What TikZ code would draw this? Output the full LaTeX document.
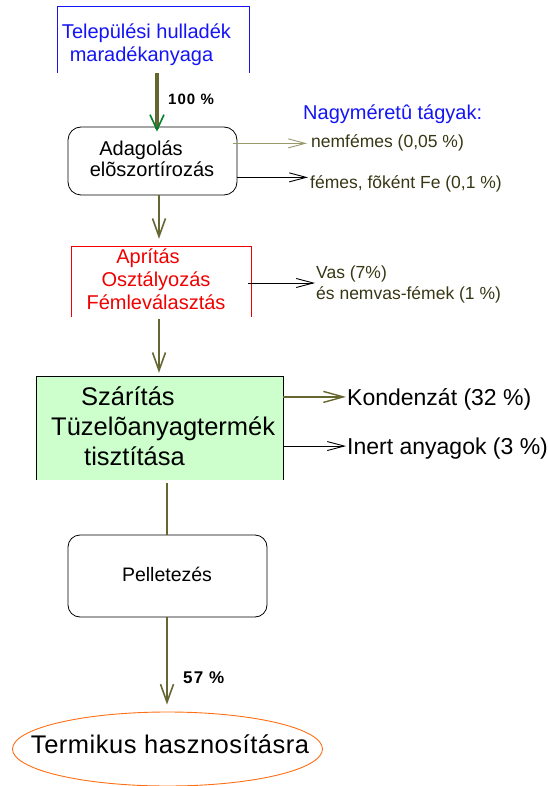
\documentclass[tikz,border=0pt]{standalone}
\usepackage{fontspec}
\setmainfont{Liberation Sans}
\usetikzlibrary{arrows.meta,shapes.geometric,calc}
\definecolor{oliveline}{RGB}{102,102,51}
\definecolor{lightolive}{RGB}{153,153,110}
\definecolor{notetext}{RGB}{55,55,20}
\definecolor{headgreen}{RGB}{0,128,40}
\definecolor{boxgreen}{RGB}{204,255,204}
\definecolor{orng}{RGB}{255,110,20}
\definecolor{titleblue}{RGB}{20,20,245}
\definecolor{boxred}{RGB}{240,0,0}
\begin{document}
\begin{tikzpicture}[x=1pt,y=-1pt,
  fs/.style={font=\fontsize{#1}{#1}\selectfont},
  bfs/.style={font=\fontsize{#1}{#1}\selectfont\bfseries\addfontfeature{LetterSpace=7}},
  txt/.style={inner sep=0pt, anchor=base west},
  ctxt/.style={inner sep=0pt, anchor=base},
  boxnode/.style={inner sep=0pt, rectangle},
  mainline/.style={draw=oliveline, line width=2pt},
  mainarrow/.style={mainline, -{Straight Barb[length=18pt,width=13pt,line width=1.6pt]}},
  sidearrow/.style={line width=0.9pt, -{Straight Barb[length=17pt,width=9pt,line width=0.9pt]}}
]
\useasboundingbox (0,0) rectangle (547,786);

% helper x positions for vertical connectors
\coordinate (c1) at (157,0);
\coordinate (c2) at (159,0);
\coordinate (c3) at (167,0);

% source box
\node[boxnode, minimum width=191pt, minimum height=66pt] (src) at (153.5,40) {};
\draw[titleblue, line width=0.8pt] (src.south west) -- (src.north west) -- (src.north east) -- (src.south east);
\node[ctxt, fs=20, text=titleblue] (src1) at (146.5,39) {Települési hulladék};
\node[ctxt, fs=20, text=titleblue] (src2) at (141.5,62) {maradékanyaga};

% Adagolás box
\node[boxnode, draw, line width=0.8pt, rounded corners=13pt, minimum width=169pt, minimum height=68pt] (adag) at (152.5,161) {};
\node[ctxt, fs=20] (adag1) at (141,156) {Adagolás};
\node[ctxt, fs=20] (adag2) at (152,177) {elõszortírozás};

% arrow 100 %
\draw[draw=oliveline, line width=4.5pt, -{Straight Barb[length=15pt,width=14pt,line width=1.6pt,color=headgreen]}]
  (c1 |- src.south) -- ($(c1 |- adag.north)+(0,5)$);
\node[txt, bfs=15] (p100) at (168,105) {100 \%};

% large parts
\node[txt, fs=20, text=titleblue] (nagy) at (303,120) {Nagyméretû tágyak:};
\node[txt, fs=17.5, text=notetext] (nemf) at (311,148) {nemfémes (0,05 \%)};
\node[txt, fs=17.5, text=notetext] (femes) at (310,189) {fémes, fõként Fe (0,1 \%)};
\draw[sidearrow, lightolive, shorten >=4pt] ([xshift=-4pt]adag.east |- nemf.west) -- (nemf.west);
\draw[sidearrow, black, shorten >=2pt] ([yshift=7pt]adag.east |- femes.west) -- ([yshift=7pt]femes.west);

% Aprítás box
\node[boxnode, minimum width=179pt, minimum height=70pt] (aprit) at (161.5,282) {};
\draw[boxred, line width=0.8pt] (aprit.south west) -- (aprit.north west) -- (aprit.north east) -- (aprit.south east);
\node[ctxt, fs=20, text=boxred] (ap1) at (148,263) {Aprítás};
\node[ctxt, fs=20, text=boxred] (ap2) at (156,286) {Osztályozás};
\node[ctxt, fs=20, text=boxred] (ap3) at (156,309) {Fémleválasztás};

\draw[mainarrow] (c2 |- adag.south) -- ($(c2 |- aprit.north)+(0,-8)$);

% Vas
\node[txt, fs=17.5, text=notetext] (vas) at (316,278) {Vas (7\%)};
\node[txt, fs=17.5, text=notetext] (nemvas) at (316,299) {és nemvas-fémek (1 \%)};
\coordinate (vasin) at (315,283);
\draw[sidearrow, black] ([xshift=-3pt]aprit.east |- vasin) -- (vasin);

% green box
\node[boxnode, fill=boxgreen, minimum width=246pt, minimum height=103pt] (green) at (160,428.5) {};
\draw[black, line width=0.9pt] (green.south west) -- (green.north west) -- (green.north east) -- (green.south east);
\node[txt, fs=25.5] (g1) at (81,405) {Szárítás};
\node[txt, fs=25.5] (g2) at (51,435) {Tüzelõanyagtermék};
\node[txt, fs=25.5] (g3) at (84,465) {tisztítása};

\draw[mainarrow] ($(c2 |- aprit.south)+(0,2)$) -- ($(c2 |- green.north)+(0,-4)$);

\node[txt, fs=23] (kond) at (347,405) {Kondenzát (32 \%)};
\node[txt, fs=23] (inert) at (347,454) {Inert anyagok (3 \%)};
\draw[draw=oliveline, line width=2pt, -{Straight Barb[length=20pt,width=11pt,line width=1.4pt]}, shorten >=1pt]
  ([yshift=2pt]green.east |- kond.west) -- ([yshift=2pt]kond.west);
\draw[sidearrow, black, shorten >=1pt] ([yshift=2pt]green.east |- inert.west) -- ([yshift=2pt]inert.west);

% Pelletezés
\node[boxnode, draw, line width=0.8pt, rounded corners=12pt, minimum width=199pt, minimum height=82pt] (pel) at (167.5,576) {};
\node[ctxt, fs=19.5] (pel1) at (167,581) {Pelletezés};
\draw[mainline] ($(c3 |- green.south)+(0,3)$) -- (c3 |- pel.north);

% final
\node[ellipse, draw=orng, line width=0.9pt, minimum width=310pt, minimum height=74pt, inner sep=0pt] (term) at (167.5,749) {};
\node[ctxt, font=\fontsize{25.5}{25.5}\selectfont\addfontfeature{LetterSpace=2}] (term1) at (170,753) {Termikus hasznosításra};
\draw[mainarrow] (c3 |- pel.south) -- ($(c3 |- term.north)+(0,-7)$);
\node[txt, bfs=17] (p57) at (183,683) {57 \%};
\end{tikzpicture}
\end{document}
